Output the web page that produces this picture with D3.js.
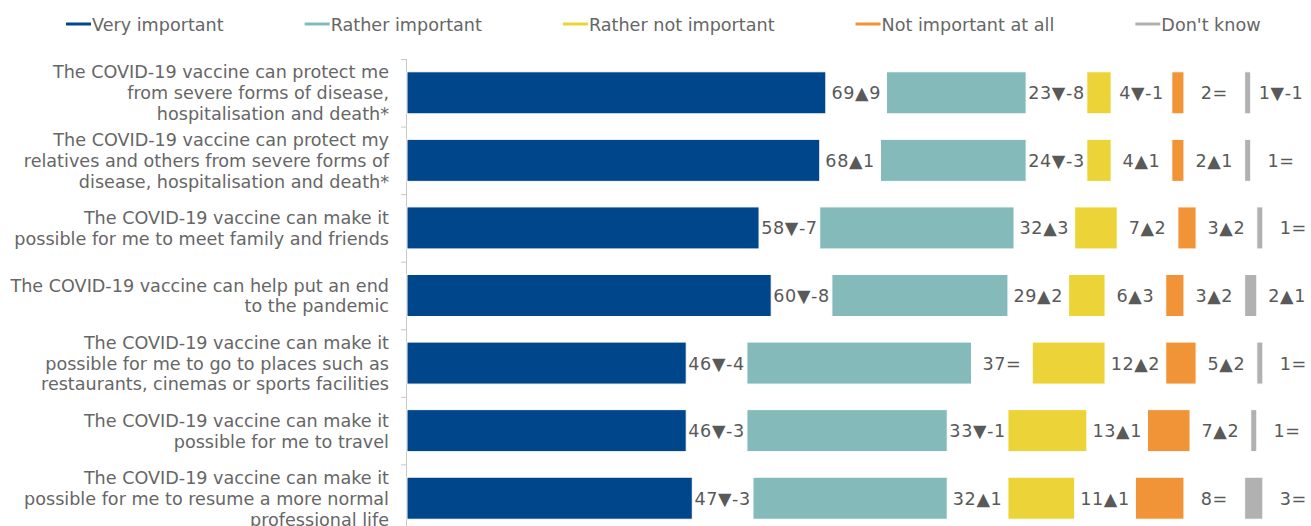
<!DOCTYPE html>
<html>
<head>
<meta charset="utf-8">
<script src="https://cdn.jsdelivr.net/npm/d3@7"></script>
<style>
  body { margin: 0; background: #fff; }
  svg { display: block; font-family: "DejaVu Sans", Verdana, sans-serif; }
</style>
</head>
<body>
<div class="chart"></div>
<script>
// category labels, already broken into lines like in the original
const categories = [
  ['The COVID-19 vaccine can protect me', 'from severe forms of disease,', 'hospitalisation and death*'],
  ['The COVID-19 vaccine can protect my', 'relatives and others from severe forms of', 'disease, hospitalisation and death*'],
  ['The COVID-19 vaccine can make it', 'possible for me to meet family and friends'],
  ['The COVID-19 vaccine can help put an end', 'to the pandemic'],
  ['The COVID-19 vaccine can make it', 'possible for me to go to places such as', 'restaurants, cinemas or sports facilities'],
  ['The COVID-19 vaccine can make it', 'possible for me to travel'],
  ['The COVID-19 vaccine can make it', 'possible for me to resume a more normal', 'professional life']
];
const seriesNames = ['Very important', 'Rather important', 'Rather not important', 'Not important at all', "Don't know"];
const colors = ['#00468b', '#84baba', '#ecd337', '#f19437', '#b1b1b1'];

const veryImportant    = [69, 68, 58, 60, 46, 46, 47];
const ratherImportant  = [23, 24, 32, 29, 37, 33, 32];
const ratherNot        = [4, 4, 7, 6, 12, 13, 11];
const notAtAll         = [2, 2, 3, 3, 5, 7, 8];
const dontKnow         = [1, 1, 1, 2, 1, 1, 3];

// change vs previous wave
const veryChange      = [9, 1, -7, -8, -4, -3, -3];
const ratherChange    = [-8, -3, 3, 2, 0, -1, 1];
const ratherNotChange = [-1, 1, 2, 3, 2, 1, 1];
const notAtAllChange  = [0, 1, 2, 2, 2, 2, 0];
const dontKnowChange  = [-1, 0, 0, 1, 0, 0, 0];

const values = [veryImportant, ratherImportant, ratherNot, notAtAll, dontKnow];
const changes = [veryChange, ratherChange, ratherNotChange, notAtAllChange, dontKnowChange];
const spacer = 10; // empty room after each segment, holds the label

const width = 1311, height = 526;
const fontSize = '17.6px';
const svg = d3.select('.chart').append('svg')
  .attr('width', width)
  .attr('height', height);

let x = d3.scaleLinear().domain([0, 100]).range([407, 407 + 607]);
let y = d3.scaleBand()
  .domain(d3.range(categories.length))
  .range([59, 532])
  .paddingInner(0.378)
  .paddingOuter(0.189);

// legend
let legend = svg.append('g').attr('class', 'legend');
let lx = 66;
seriesNames.forEach((name, i) => {
  let g = legend.append('g').attr('transform', `translate(${lx}, 24)`);
  g.append('line')
    .attr('x1', 0).attr('x2', 25)
    .attr('y1', 0).attr('y2', 0)
    .style('stroke', colors[i])
    .style('stroke-width', 3);
  let t = g.append('text')
    .attr('x', 26).attr('y', 6.5)
    .style('font-size', fontSize)
    .style('fill', '#666')
    .text(name);
  lx += 26 + t.node().getComputedTextLength() + 81;
});

// axis line with ticks on band boundaries
let axis = svg.append('g').attr('class', 'y-axis');
axis.append('line')
  .attr('x1', 406.5).attr('x2', 406.5)
  .attr('y1', y.range()[0]).attr('y2', height)
  .style('stroke', '#c8c8c8');
axis.selectAll('.tick')
  .data(d3.range(categories.length + 1))
  .enter()
  .append('line')
  .attr('x1', 401).attr('x2', 406.5)
  .attr('y1', d => y.range()[0] + d * y.step() + 0.5)
  .attr('y2', d => y.range()[0] + d * y.step() + 0.5)
  .style('stroke', '#c8c8c8');

// category labels
categories.forEach((lines, i) => {
  let cy = y(i) + y.bandwidth() / 2;
  let t = svg.append('text')
    .style('text-anchor', 'end')
    .style('font-size', fontSize)
    .style('fill', '#666');
  lines.forEach((line, j) => {
    t.append('tspan')
      .attr('x', 389)
      .attr('y', cy + 6.5 + (j - (lines.length - 1) / 2) * 20.8)
      .text(line);
  });
});

// segments
let rows = categories.map((c, i) => {
  let offset = 0;
  return values.map((s, k) => {
    let d = { row: i, k: k, start: offset, value: s[i], change: changes[k][i] };
    offset += s[i] + spacer;
    return d;
  });
}).flat();

function fmtChange(v) {
  if (v > 0) return '\u25B2' + v;
  if (v < 0) return '\u25BC' + v;
  return '=';
}

svg.append('g').selectAll('rect')
  .data(rows)
  .enter()
  .append('rect')
  .attr('x', d => x(d.start))
  .attr('y', d => y(d.row))
  .attr('width', d => x(d.start + d.value) - x(d.start))
  .attr('height', y.bandwidth())
  .style('fill', d => colors[d.k])
  .style('stroke', '#fff')
  .style('stroke-width', 1);

svg.append('g').selectAll('text')
  .data(rows)
  .enter()
  .append('text')
  .attr('x', d => x(d.start + d.value + spacer / 2))
  .attr('y', d => y(d.row) + y.bandwidth() / 2 + 6.5)
  .style('text-anchor', 'middle')
  .style('font-size', fontSize)
  .style('letter-spacing', '0.6px')
  .style('fill', '#595959')
  .text(d => d.value + fmtChange(d.change));
</script>
</body>
</html>
